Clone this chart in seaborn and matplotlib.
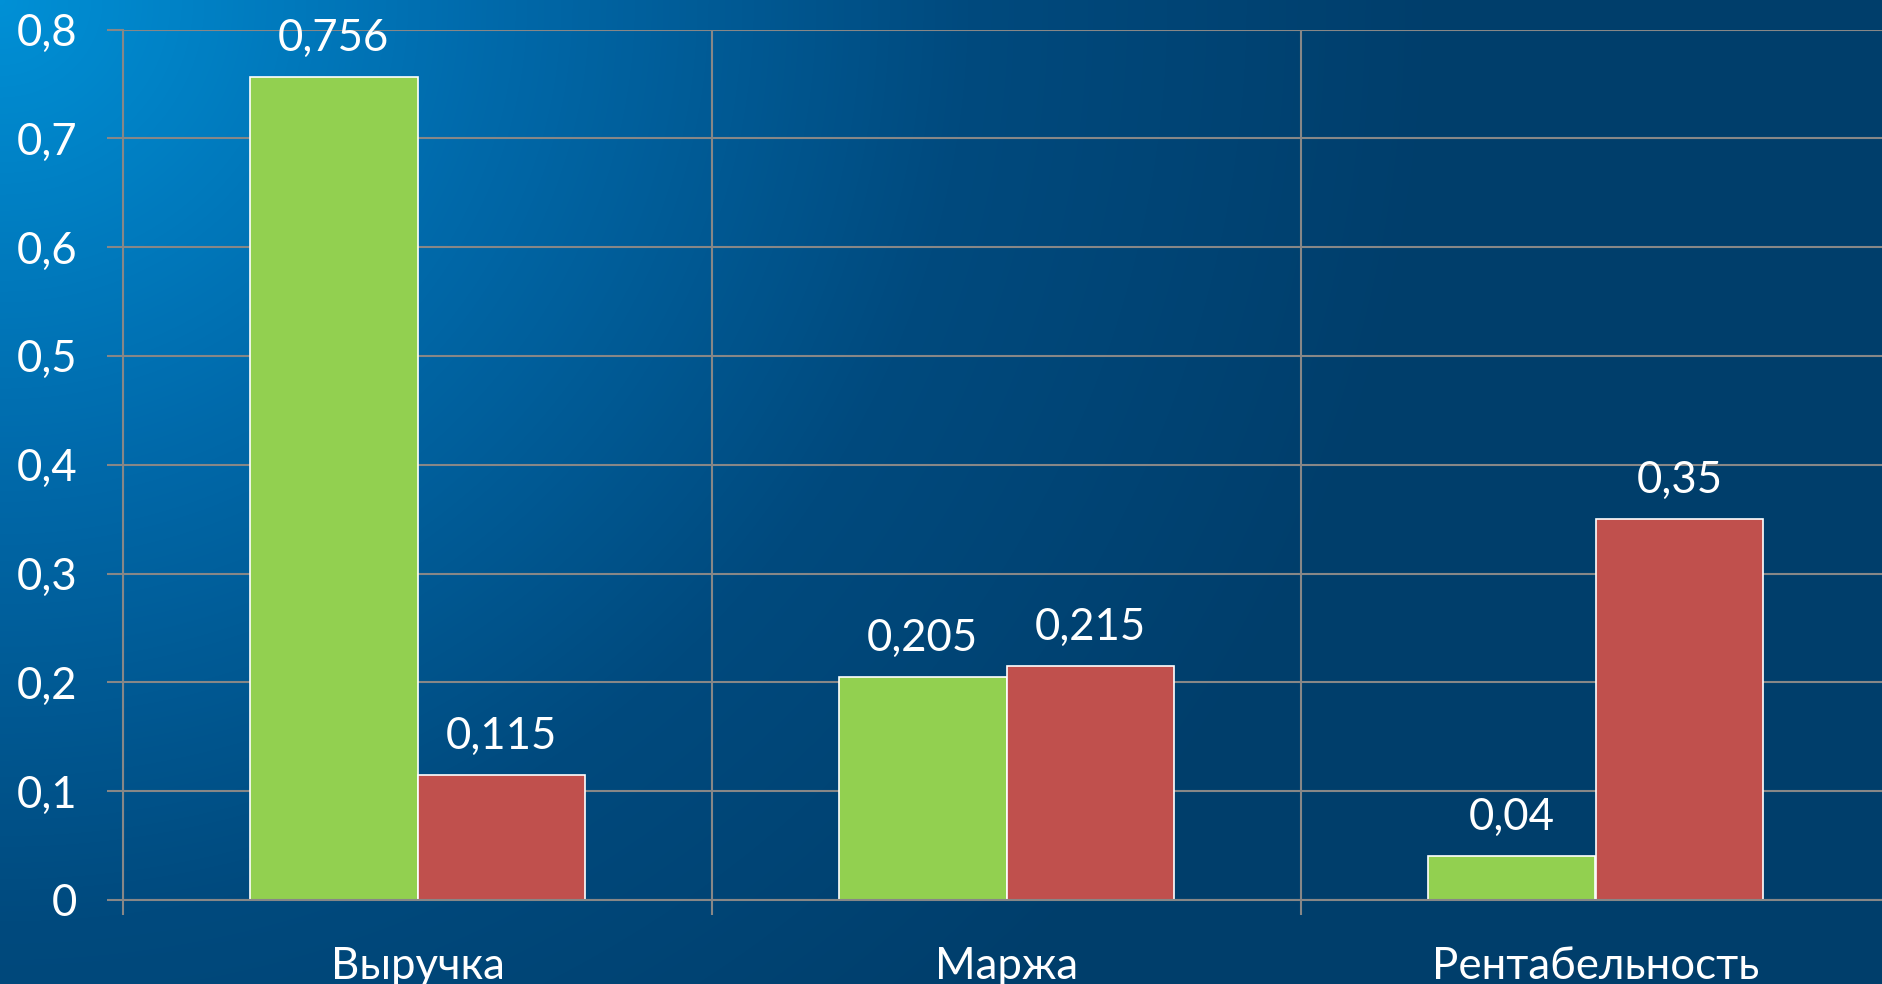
import numpy as np
import pandas as pd
import seaborn as sns
import matplotlib.pyplot as plt
from matplotlib.colors import LinearSegmentedColormap

categories = ["Выручка", "Маржа", "Рентабельность"]
series_names = ["Ряд 1", "Ряд 2"]
green_values = [0.756, 0.205, 0.04]
red_values = [0.115, 0.215, 0.35]
y_ticks = [0, 0.1, 0.2, 0.3, 0.4, 0.5, 0.6, 0.7, 0.8]

df = pd.DataFrame({
    "category": categories * 2,
    "series": [series_names[0]] * 3 + [series_names[1]] * 3,
    "value": green_values + red_values,
})

sns.set_theme(style="white")
plt.rcParams["font.family"] = ["Lato", "DejaVu Sans"]

W, H = 1882, 984
fig = plt.figure(figsize=(W / 100, H / 100), dpi=100)

# background: radial-ish gradient from the top-left corner
bg = fig.add_axes([0, 0, 1, 1])
xx, yy = np.meshgrid(np.arange(W), np.arange(H))
t = np.clip(np.sqrt((xx / 1450) ** 2 + (yy / 1380) ** 2), 0, 1)
cmap = LinearSegmentedColormap.from_list("bg", ["#0090d6", "#006aab", "#004a7e", "#003e6b"])
bg.imshow(t, cmap=cmap, vmin=0, vmax=1, aspect="auto", interpolation="bilinear")
bg.axis("off")

ax = fig.add_axes([123 / W, 84 / H, 1767 / W, 870.5 / H])
ax.patch.set_alpha(0)

sns.barplot(data=df, x="category", y="value", hue="series",
            palette=["#92d050", "#c0504d"], width=0.57, legend=False,
            edgecolor="white", linewidth=1.2, saturation=1, ax=ax)

grid_color = "#878787"
ax.set_xlim(-0.5, 2.5)
ax.set_ylim(0, 0.8)
ax.set_yticks(y_ticks)
ax.set_yticklabels([f"{v:g}".replace(".", ",") for v in y_ticks])
ax.set_xticks([-0.5, 0.5, 1.5, 2.5], minor=True)
ax.set_axisbelow(True)
ax.grid(axis="y", which="major", color=grid_color, linewidth=1.5)
ax.grid(axis="x", which="minor", color=grid_color, linewidth=1.5)
ax.grid(axis="x", which="major", visible=False)

ax.tick_params(axis="y", which="major", length=11.5, width=1.5, color=grid_color,
               labelsize=31.5, labelcolor="white", pad=21.5, left=True)
ax.tick_params(axis="x", which="major", length=0, labelsize=31.5, labelcolor="white", pad=33)
ax.tick_params(axis="x", which="minor", length=11, width=1.5, color=grid_color, bottom=True)

for side in ["top", "right"]:
    ax.spines[side].set_visible(False)
for side in ["left", "bottom"]:
    ax.spines[side].set_color(grid_color)
    ax.spines[side].set_linewidth(1.5)

ax.set_xlabel("")
ax.set_ylabel("")

for container in ax.containers:
    labels = [f"{b.get_height():g}".replace(".", ",") for b in container]
    ax.bar_label(container, labels=labels, padding=13, fontsize=31.5, color="white")

fig.savefig("out.png", dpi=100)
